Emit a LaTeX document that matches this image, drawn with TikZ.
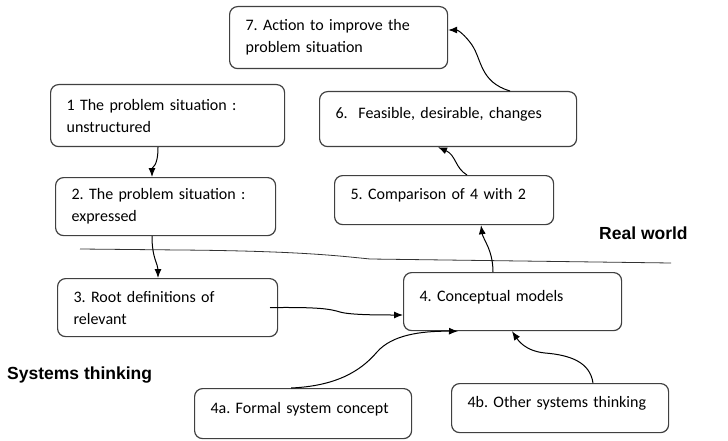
\documentclass[tikz,border=0pt]{standalone}
\usepackage{fontspec}
\setmainfont{Carlito}
\newfontfamily\regionfont{Liberation Sans}
\usepackage{tikz}
\usetikzlibrary{arrows.meta}
\frenchspacing

\begin{document}
\begin{tikzpicture}[x=1pt, y=-1pt,
    box/.style={draw=black!75, line width=1.2pt, rounded corners=8pt, anchor=north west, align=left, inner xsep=16pt, inner ysep=0pt, font=\fontsize{16}{22}\selectfont},
    oneline/.style={text depth=12pt},
    region/.style={anchor=west, inner sep=0pt, font=\regionfont\bfseries\fontsize{17.5}{20}\selectfont},
    flow/.style={draw, -{Latex[length=9pt, width=7pt]}, line width=1pt}
  ]
  \useasboundingbox (0,0) rectangle (728,441);

  \node[box, text width=186pt, minimum height=62pt] (b7) at (229,6) {7. Action to improve the\\problem situation};
  \node[box, text width=202pt, minimum height=62pt] (b1) at (50,84) {1 The problem situation :\\unstructured};
  \node[box, text width=188pt, minimum height=58pt] (b2) at (55,177) {2. The problem situation :\\expressed};
  \node[box, text width=188pt, minimum height=58pt] (b3) at (57,278) {3. Root definitions of\\relevant};
  \node[box, oneline, text width=225pt, minimum height=55pt] (b6) at (319,91) {6.\ \ Feasible, desirable, changes};
  \node[box, oneline, text width=187pt, minimum height=49pt] (b5) at (334,175) {5. Comparison of 4 with 2};
  \node[box, oneline, text width=186pt, minimum height=58pt] (b4) at (403,272) {4. Conceptual models};
  \node[box, oneline, text width=185pt, minimum height=50pt] (b4a) at (194,388) {4a. Formal system concept};
  \node[box, oneline, text width=185pt, minimum height=49pt] (b4b) at (451,383) {4b. Other systems thinking};

  \node[region] (real) at (599,233) {Real world};
  \node[region] (sys) at (7,375) {Systems thinking};

  \draw[black!80, line width=0.8pt] (80,249) -- (180,250) .. controls (300,251) and (340,256) .. (370,259) -- (671,263);

  \draw[flow] (158,0 |- b1.south) .. controls +(0,20) and +(0,-10) .. (152,0 |- b2.north);
  \draw[flow] (152,0 |- b2.south) .. controls +(0,22) and +(0,-14) .. (158,0 |- b3.north);
  \draw[flow] (270,0 |- b3.east) .. controls (320,307) and (330,309) .. (340,312) .. controls (350,315) and (380,315) .. (b4.west |- 0,315);
  \draw[flow] ([xshift=-12pt]b4a.north) .. controls (335,386) and (360,372) .. (377,352) .. controls (392,335) and (420,331) .. (458,0 |- b4.south);
  \draw[flow] (593,0 |- b4b.north) .. controls (590,362) and (570,355) .. (545,353) .. controls (525,351) and (518,340) .. (512,0 |- b4.south);
  \draw[flow] (493,0 |- b4.north) .. controls +(0,-22) and +(2,14) .. (481,0 |- b5.south);
  \draw[flow] (467,0 |- b5.north) .. controls (455,168) and (456,155) .. (438,0 |- b6.south);
  \draw[flow] (510,0 |- b6.north) .. controls (480,82) and (482,60) .. (472,45) .. controls (465,35) and (458,30) .. (b7.east |- 0,30);
\end{tikzpicture}
\end{document}
